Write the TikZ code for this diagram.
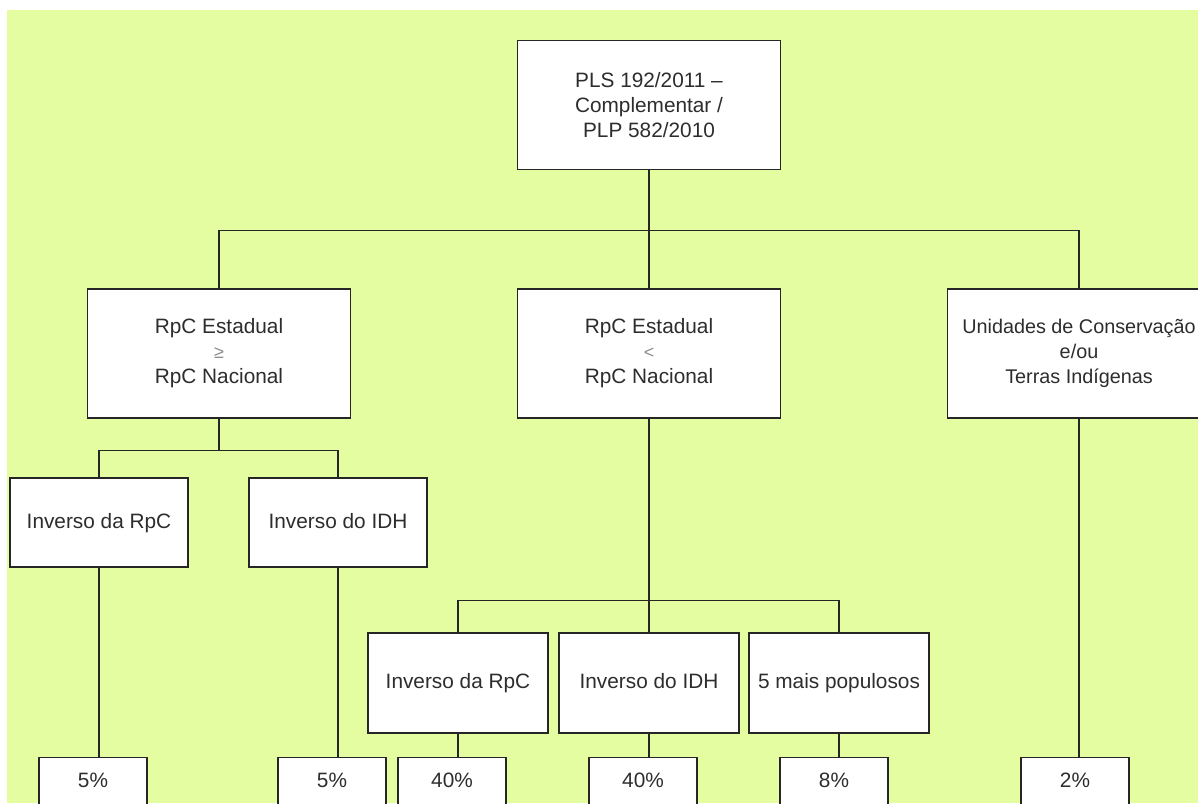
\documentclass[tikz,border=0pt]{standalone}
\usepackage{fontspec}
\setmainfont{Liberation Sans}
\usetikzlibrary{positioning}

\definecolor{bggreen}{RGB}{227,253,160}
\definecolor{txtgray}{RGB}{45,45,45}
\newcommand{\relsym}[1]{{\color{black!45}\fontsize{18}{25}\selectfont #1}}

\begin{document}
\begin{tikzpicture}[x=1pt, y=-1pt,
        box/.style={draw=black!85, line width=1.3pt, fill=white, rectangle, align=center, inner sep=0pt, text=txtgray, font=\fontsize{20.8}{25}\selectfont},
        oneline/.style={box, text height=15pt, text depth=4pt},
        bigbox/.style={box, minimum width=263pt, minimum height=129pt},
        smallbox/.style={oneline, minimum width=178pt, minimum height=89pt},
        midbox/.style={oneline, minimum width=180pt, minimum height=100pt},
        pctbox/.style={oneline, anchor=north, minimum width=108pt, minimum height=48pt},
        link/.style={draw=black!85, line width=1.3pt}
    ]
        \clip (0,0) rectangle (1198,803);
        \fill[white] (0,0) rectangle (1198,803);
        \fill[bggreen] (7,10) rectangle (1198,803);

        % top and second level
        \node[bigbox] (pls) at (649,105) {PLS 192/2011 --\\Complementar /\\PLP 582/2010};
        \node[bigbox] (rpcmaior) at (219,353.5) {RpC Estadual\\\relsym{≥}\\RpC Nacional};
        \node[bigbox] (rpcmenor) at (649,353.5) {RpC Estadual\\\relsym{<}\\RpC Nacional};
        \node[bigbox, font=\fontsize{19.8}{25}\selectfont] (ucti) at (1079,353.5) {Unidades de Conservação\\e/ou\\Terras Indígenas};

        % criteria
        \node[smallbox] (invrpcA) at (99,522.5) {Inverso da RpC};
        \node[smallbox] (invidhA) at (338,522.5) {Inverso do IDH};
        \node[midbox] (invrpcB) at (458,683) {Inverso da RpC};
        \node[midbox] (invidhB) at (649,683) {Inverso do IDH};
        \node[midbox] (populosos) at (839,683) {5 mais populosos};

        % shares
        \node[pctbox] (pctA1) at (93,757) {5\%};
        \node[pctbox] (pctA2) at (332,757) {5\%};
        \node[pctbox] (pctB1) at (452,757) {40\%};
        \node[pctbox] (pctB2) at (643,757) {40\%};
        \node[pctbox] (pctB3) at (834,757) {8\%};
        \node[pctbox] (pctUC) at (1075,757) {2\%};

        \draw[link] (pls.south) -- (rpcmenor.north);
        \draw[link] (pls.south) -- ++(0,60) -| (rpcmaior.north);
        \draw[link] (pls.south) -- ++(0,60) -| (ucti.north);

        \draw[link] (rpcmaior.south) -- ++(0,32) -| (invrpcA.north);
        \draw[link] (rpcmaior.south) -- ++(0,32) -| (invidhA.north);
        \draw[link] (rpcmenor.south) -- (invidhB.north);
        \draw[link] (rpcmenor.south) -- ++(0,182) -| (invrpcB.north);
        \draw[link] (rpcmenor.south) -- ++(0,182) -| (populosos.north);

        \draw[link] (invrpcA.south) -- (invrpcA.south |- pctA1.north);
        \draw[link] (invidhA.south) -- (invidhA.south |- pctA2.north);
        \draw[link] (invrpcB.south) -- (invrpcB.south |- pctB1.north);
        \draw[link] (invidhB.south) -- (invidhB.south |- pctB2.north);
        \draw[link] (populosos.south) -- (populosos.south |- pctB3.north);
        \draw[link] (ucti.south) -- (ucti.south |- pctUC.north);
    \end{tikzpicture}
\end{document}
